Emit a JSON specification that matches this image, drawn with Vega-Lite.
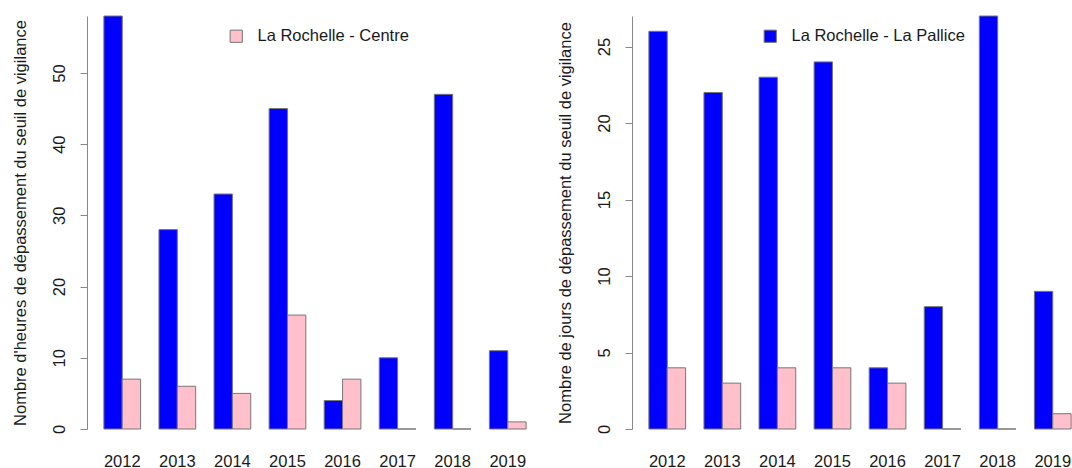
{
  "$schema": "https://vega.github.io/schema/vega-lite/v6.json",
  "padding": {"left": 12, "top": 15, "right": 0, "bottom": 0},
  "background": "white",
  "config": {
    "view": {"stroke": null},
    "font": "Liberation Sans",
    "axis": {"labelFont": "Liberation Sans", "titleFont": "Liberation Sans", "labelFontSize": 16.5, "titleFontSize": 16.5, "labelColor": "#1a1a1a", "titleColor": "#1a1a1a", "titleFontWeight": "normal", "grid": false, "domainColor": "#888", "tickColor": "#888"},
    "legend": {"labelFont": "Liberation Sans", "labelFontSize": 16.5, "labelColor": "#1a1a1a", "labelLimit": 0}
  },
  "datasets": {
    "heures": [
      {"annee": "2012", "station": "La Rochelle - La Pallice", "valeur": 58},
      {"annee": "2013", "station": "La Rochelle - La Pallice", "valeur": 28},
      {"annee": "2014", "station": "La Rochelle - La Pallice", "valeur": 33},
      {"annee": "2015", "station": "La Rochelle - La Pallice", "valeur": 45},
      {"annee": "2016", "station": "La Rochelle - La Pallice", "valeur": 4},
      {"annee": "2017", "station": "La Rochelle - La Pallice", "valeur": 10},
      {"annee": "2018", "station": "La Rochelle - La Pallice", "valeur": 47},
      {"annee": "2019", "station": "La Rochelle - La Pallice", "valeur": 11},
      {"annee": "2012", "station": "La Rochelle - Centre", "valeur": 7},
      {"annee": "2013", "station": "La Rochelle - Centre", "valeur": 6},
      {"annee": "2014", "station": "La Rochelle - Centre", "valeur": 5},
      {"annee": "2015", "station": "La Rochelle - Centre", "valeur": 16},
      {"annee": "2016", "station": "La Rochelle - Centre", "valeur": 7},
      {"annee": "2017", "station": "La Rochelle - Centre", "valeur": 0},
      {"annee": "2018", "station": "La Rochelle - Centre", "valeur": 0},
      {"annee": "2019", "station": "La Rochelle - Centre", "valeur": 1}
    ],
    "jours": [
      {"annee": "2012", "station": "La Rochelle - La Pallice", "valeur": 26},
      {"annee": "2013", "station": "La Rochelle - La Pallice", "valeur": 22},
      {"annee": "2014", "station": "La Rochelle - La Pallice", "valeur": 23},
      {"annee": "2015", "station": "La Rochelle - La Pallice", "valeur": 24},
      {"annee": "2016", "station": "La Rochelle - La Pallice", "valeur": 4},
      {"annee": "2017", "station": "La Rochelle - La Pallice", "valeur": 8},
      {"annee": "2018", "station": "La Rochelle - La Pallice", "valeur": 27},
      {"annee": "2019", "station": "La Rochelle - La Pallice", "valeur": 9},
      {"annee": "2012", "station": "La Rochelle - Centre", "valeur": 4},
      {"annee": "2013", "station": "La Rochelle - Centre", "valeur": 3},
      {"annee": "2014", "station": "La Rochelle - Centre", "valeur": 4},
      {"annee": "2015", "station": "La Rochelle - Centre", "valeur": 4},
      {"annee": "2016", "station": "La Rochelle - Centre", "valeur": 3},
      {"annee": "2017", "station": "La Rochelle - Centre", "valeur": 0},
      {"annee": "2018", "station": "La Rochelle - Centre", "valeur": 0},
      {"annee": "2019", "station": "La Rochelle - Centre", "valeur": 1}
    ]
  },
  "spacing": 14,
  "resolve": {"scale": {"color": "independent"}, "legend": {"color": "independent"}},
  "hconcat": [
    {
      "width": 456,
      "height": 413,
      "data": {"name": "heures"},
      "mark": {"type": "bar", "stroke": "#777", "strokeWidth": 1, "clip": false},
      "encoding": {
        "x": {"field": "annee", "type": "nominal", "title": null,
              "scale": {"paddingInner": 0.3333, "paddingOuter": 0.3067},
              "axis": {"labelAngle": 0, "domain": false, "ticks": false, "labelPadding": 24}},
        "xOffset": {"field": "station", "type": "nominal", "sort": ["La Rochelle - La Pallice", "La Rochelle - Centre"], "scale": {"paddingInner": 0, "paddingOuter": 0}},
        "y": {"field": "valeur", "type": "quantitative",
              "title": "Nombre d'heures de dépassement du seuil de vigilance",
              "scale": {"domain": [0, 58], "nice": false, "zero": true},
              "axis": {"values": [0, 10, 20, 30, 40, 50], "labelAngle": -90, "labelAlign": "center", "labelBaseline": "bottom", "tickSize": 7, "labelPadding": 13, "titlePadding": 23}},
        "color": {"field": "station", "type": "nominal",
                  "scale": {"domain": ["La Rochelle - La Pallice", "La Rochelle - Centre"], "range": ["#0000FF", "#FFC0CB"]},
                  "legend": {"title": null, "values": ["La Rochelle - Centre"], "orient": "none", "legendX": 141, "legendY": 12, "symbolType": "square", "symbolSize": 150, "symbolStrokeColor": "#777", "symbolStrokeWidth": 1, "labelOffset": 13}}
      }
    },
    {
      "width": 456,
      "height": 413,
      "data": {"name": "jours"},
      "mark": {"type": "bar", "stroke": "#777", "strokeWidth": 1, "clip": false},
      "encoding": {
        "x": {"field": "annee", "type": "nominal", "title": null,
              "scale": {"paddingInner": 0.3333, "paddingOuter": 0.3067},
              "axis": {"labelAngle": 0, "domain": false, "ticks": false, "labelPadding": 24}},
        "xOffset": {"field": "station", "type": "nominal", "sort": ["La Rochelle - La Pallice", "La Rochelle - Centre"], "scale": {"paddingInner": 0, "paddingOuter": 0}},
        "y": {"field": "valeur", "type": "quantitative",
              "title": "Nombre de jours de dépassement du seuil de vigilance",
              "scale": {"domain": [0, 27], "nice": false, "zero": true},
              "axis": {"values": [0, 5, 10, 15, 20, 25], "labelAngle": -90, "labelAlign": "center", "labelBaseline": "bottom", "tickSize": 7, "labelPadding": 13, "titlePadding": 23}},
        "color": {"field": "station", "type": "nominal",
                  "scale": {"domain": ["La Rochelle - La Pallice", "La Rochelle - Centre"], "range": ["#0000FF", "#FFC0CB"]},
                  "legend": {"title": null, "values": ["La Rochelle - La Pallice"], "orient": "none", "legendX": 130, "legendY": 12, "symbolType": "square", "symbolSize": 150, "symbolStrokeColor": "#777", "symbolStrokeWidth": 1, "labelOffset": 13}}
      }
    }
  ]
}
